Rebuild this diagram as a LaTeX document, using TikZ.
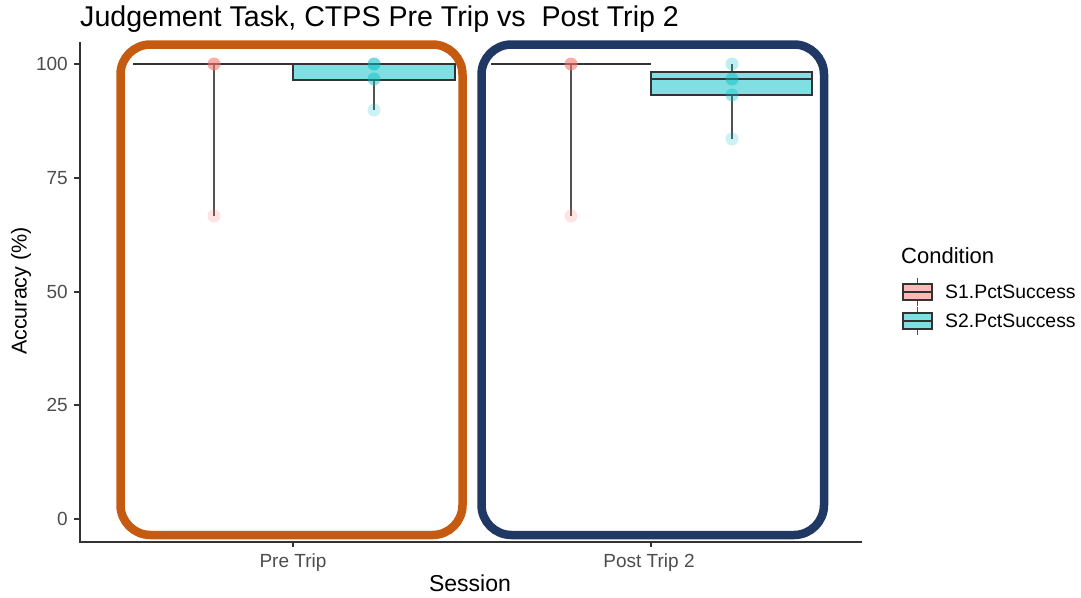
\documentclass[tikz,border=0pt]{standalone}
\usepackage{fontspec}
\setmainfont{Liberation Sans}
\definecolor{sone}{HTML}{F8766D}
\definecolor{stwo}{HTML}{00BFC4}
\definecolor{sonefill}{HTML}{FBBAB6}
\definecolor{stwofill}{HTML}{80DFE2}
\definecolor{hlorange}{HTML}{C55A11}
\definecolor{hlblue}{HTML}{203864}
\definecolor{ink}{HTML}{333333}
\definecolor{ticktxt}{HTML}{4D4D4D}
\begin{document}
\begin{tikzpicture}[x=1pt,y=-1pt,
  axisline/.style={draw=ink,line width=1.3pt},
  tickmark/.style={draw=ink,line width=1.1pt},
  ticklab/.style={text=ticktxt,font=\fontsize{19}{22}\selectfont,inner sep=0pt},
  axtitle/.style={text=black,font=\fontsize{23}{27}\selectfont,inner sep=0pt},
  whisk/.style={draw=ink!85,line width=1.3pt},
  boxbody/.style={draw=ink,line width=1.4pt},
  medline/.style={draw=ink,line width=2pt},
  dotone/.style={circle,fill=sone,minimum size=13pt,inner sep=0pt},
  dottwo/.style={circle,fill=stwo,minimum size=13pt,inner sep=0pt},
  hlbox/.style={line width=8.5pt,rounded corners=30pt},
  legtxt/.style={text=black,font=\fontsize{19.4}{23}\selectfont,inner sep=0pt,anchor=base west}]
\useasboundingbox (0,0) rectangle (1081,597);
\fill[white] (0,0) rectangle (1081,597);

% title
\node[anchor=base west,inner sep=0pt,font=\fontsize{28.6}{33}\selectfont] (title) at (80,27) {Judgement Task, CTPS Pre Trip vs\ \ Post Trip 2};

% axes
\coordinate (ytop) at (80,42);
\coordinate (orig) at (80,542);
\coordinate (xend) at (862,542);
\draw[axisline] (ytop) -- (orig) -- (xend);

% y ticks
\foreach \v/\yy in {100/64,75/178,50/292,25/405,0/519}{
  \coordinate (yt\v) at (80,\yy);
  \coordinate (ytl\v) at (74,\yy);
  \draw[tickmark] (ytl\v) -- (yt\v);
  \node[ticklab,anchor=east] (ylab\v) at (68,\yy) {\v};
}
% x ticks
\coordinate (xa) at (293,542);
\coordinate (xa2) at (293,547);
\coordinate (xb) at (651,542);
\coordinate (xb2) at (651,547);
\draw[tickmark] (xa) -- (xa2);
\draw[tickmark] (xb) -- (xb2);
\node[ticklab,anchor=base] (xlabA) at (293,567) {Pre Trip};
\node[ticklab,anchor=base] (xlabB) at (649,567) {Post Trip 2};

\node[axtitle,anchor=base] (xtitle) at (470,591.5) {Session};
\node[axtitle,rotate=90,font=\fontsize{21.5}{25}\selectfont] (ytitle) at (21,291) {Accuracy (\%)};

% ---- Pre Trip ----
% S1 whisker and collapsed box
\coordinate (p1hi) at (214,64);
\coordinate (p1lo) at (214,216);
\draw[whisk] (p1hi) -- (p1lo);
\coordinate (p1l) at (133,64);
\coordinate (p1r) at (293,64);
\draw[medline] (p1l) -- (p1r);
% S2 box
\coordinate (p2hi) at (374,80);
\coordinate (p2lo) at (374,110);
\draw[whisk] (p2hi) -- (p2lo);
\draw[boxbody,fill=stwofill] (293,64) rectangle (455,80);
\draw[medline] (293,64) -- (455,64);
% points
\node[dotone,opacity=0.6] (a1) at (214,64) {};
\node[dotone,opacity=0.2] (a2) at (214,216) {};
\node[dottwo,opacity=0.55] (b1) at (374,64) {};
\node[dottwo,opacity=0.45] (b2) at (374,79) {};
\node[dottwo,opacity=0.2] (b3) at (374,110) {};

% ---- Post Trip 2 ----
\coordinate (q1hi) at (571,64);
\coordinate (q1lo) at (571,216);
\draw[whisk] (q1hi) -- (q1lo);
\coordinate (q1l) at (491,64);
\coordinate (q1r) at (651,64);
\draw[medline] (q1l) -- (q1r);
\coordinate (q2top) at (732,64);
\coordinate (q2q3) at (732,72);
\coordinate (q2q1) at (732,95);
\coordinate (q2bot) at (732,139);
\draw[whisk] (q2top) -- (q2q3);
\draw[whisk] (q2q1) -- (q2bot);
\draw[boxbody,fill=stwofill] (651,72) rectangle (812,95);
\draw[medline] (651,79) -- (812,79);
\node[dotone,opacity=0.6] (c1) at (571,64) {};
\node[dotone,opacity=0.2] (c2) at (571,216) {};
\node[dottwo,opacity=0.25] (d1) at (732,64) {};
\node[dottwo,opacity=0.45] (d2) at (732,79) {};
\node[dottwo,opacity=0.35] (d3) at (732,95) {};
\node[dottwo,opacity=0.2] (d4) at (732,139) {};

% highlight frames
\draw[hlbox,draw=hlorange] (120.5,44.5) rectangle (462.5,535);
\draw[hlbox,draw=hlblue] (481.5,44.5) rectangle (824,535);

% legend
\node[axtitle,anchor=base west,font=\fontsize{22}{26}\selectfont] (legtitle) at (901,263) {Condition};
\foreach \k/\yy/\fc in {1/292/sonefill,2/321/stwofill}{
  \coordinate (kt\k) at (917.5,\yy-14);
  \coordinate (kb\k) at (917.5,\yy+14);
  \draw[whisk] (kt\k) -- (kb\k);
  \draw[boxbody,fill=\fc] (903,\yy-8) rectangle (932,\yy+8);
  \draw[boxbody] (903,\yy) -- (932,\yy);
}
\node[legtxt] (leg1) at (945,298) {S1.PctSuccess};
\node[legtxt] (leg2) at (945,327) {S2.PctSuccess};
\end{tikzpicture}
\end{document}
